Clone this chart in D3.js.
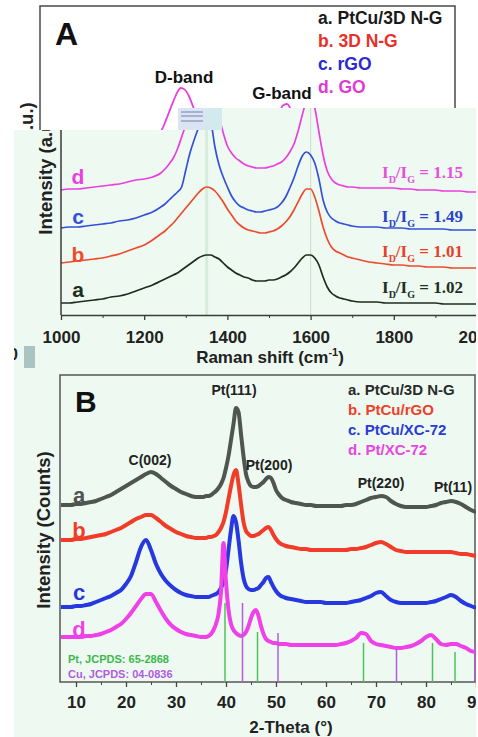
<!DOCTYPE html>
<html><head><meta charset="utf-8">
<script src="https://cdn.jsdelivr.net/npm/d3@7"></script>
<style>body{margin:0;background:#fff}svg{display:block}text{font-family:"Liberation Sans",Arial,sans-serif}</style>
</head><body><svg id="c" width="478" height="737"></svg>
<script>
// ---------- Panel A data (Raman) ----------
const ramanShift = [1000,1020,1040,1060,1080,1100,1120,1140,1160,1180,1200,1220,1240,
 1250,1260,1270,1280,1290,1300,1310,1320,1330,1340,1350,1360,1370,1380,1390,1400,1410,1420,1430,1440,
 1450,1460,1470,1480,1490,1500,1510,1520,1530,1540,1550,1560,1570,1580,1590,1600,1610,1620,1630,1640,
 1650,1660,1670,1680,1690,1700,
 1720,1740,1760,1780,1800,1820,1840,1860,1880,1900,1920,1940,1960,1980,2000];
const ramanA = [12,12,13,14,15,16,18,19,21,24,27,30,34,
 36,38,40,42,45,48,51,54,57,59, 60,60,58,56,52,48,45,42,40,38, 37,35,34,34,34,35,35,36,38,40,
 43,47,52,57,60,60,57,50,38,28, 22,19,17,16,15,14,
 13,13,13,12,12,12,12,12,12,12,11,11,11,11,11];
const ramanB = [52,53,54,55,56,57,59,61,64,67,70,75,81,
 84,88,92,97,102,107,112,117,122,126, 128,127,124,119,113,106,100,94,90,87, 85,84,83,82,82,83,84,86,89,93,
 98,105,113,121,126,126,118,104,88,76, 68,64,62,60,58,57,
 55,53,52,51,50,50,49,49,48,48,48,47,47,47,47];
const ramanC = [87,88,88,89,90,91,92,94,95,97,100,103,108,
 111,115,119,123,128,145,162,175,187,202, 212,195,168,150,138,128,119,113,109,107, 105,104,103,103,104,105,106,108,112,118,
 127,137,149,159,163,160,152,136,115,103, 97,94,92,91,90,89,
 88,88,88,87,87,87,86,86,86,86,86,85,85,85,85];
const ramanD = [125,126,126,127,128,129,130,131,133,135,136,138,142,
 146,151,157,166,178,190,203,216,228,235, 233,225,212,198,182,169,162,157,154,151, 149,148,147,147,147,148,149,151,153,157,
 163,171,184,200,213,215,207,183,160,144, 136,132,130,129,128,128,
 127,127,127,127,127,126,126,125,125,125,124,124,124,123,123];
const ramanSeries = [ramanA, ramanB, ramanC, ramanD];
const ramanLetters = ['a','b','c','d'];
const ramanColors = ['#1d2e1d','#ee4a2e','#3550d8','#ec3ee0'];
const ramanLegend = ['a. PtCu/3D N-G','b. 3D N-G','c. rGO','d. GO'];
const ramanLegendColors = ['#1a1a1a','#e8302a','#2a2ad0','#e03ad0'];
const ratioLabels = ['1.02','1.01','1.49','1.15'];
const ratioColors = ['#203020','#e8402a','#2a44c8','#e650dc'];
const ramanTicks = [1000,1200,1400,1600,1800,2000];
const ramanMinor = [1100,1300,1500,1700,1900];
const bandPositions = [1350,1600];

// ---------- Panel B data (XRD) ----------
const theta = [7,8,9,10,11,12,13,14,15,16,17,18,19,20,21,22,23,24,25,26,27,28,29,30,31,32,33,34,35,
 35.5,36,36.5,37,37.5,38,38.5,39,39.5,40,40.5,41,41.5,42,42.5,43,43.5,44,44.5,45,45.5,46,46.5,47,47.5,48,48.5,49,49.5,50,50.5,51,51.5,52,
 53,54,55,56,57,58,59,60,61,62,63,64,65,66,67,68,69,70,71,72,73,74,75,76,77,78,79,80,81,82,83,84,85,86,87,88,89,90];
const xrdA = [177,177,177,178,178,179,180,181,183,185,187,190,193,196,199,202,205,208,210,208,204,200,196,193,190,188,186,185,185,
 185,186,186,187,189,191,194,198,204,214,226,242,258,274,270,248,226,208,200,196,195,195,196,198,200,203,205,204,199,192,188,185,183,182,
 180,179,178,177,177,176,176,176,176,176,176,177,177,178,180,182,184,185,186,185,181,178,176,175,175,175,175,175,176,177,179,180,181,180,178,175,172,170];
const xrdB = [142,142,142,143,143,144,145,146,147,148,150,152,154,157,160,163,165,167,167,164,160,156,153,150,148,146,145,144,144,
 144,144,145,145,146,147,150,154,160,170,183,196,207,212,198,178,160,151,148,146,146,147,148,150,152,154,155,152,147,143,140,138,137,136,
 135,134,133,133,132,132,132,132,132,132,132,132,133,133,134,135,137,139,140,138,135,132,131,130,130,130,130,130,130,130,130,130,130,129,128,128,127,126];
const xrdC = [75,75,75,76,76,77,78,80,82,84,86,89,92,98,106,120,135,142,132,118,108,101,96,92,89,87,86,85,85,
 85,85,85,86,87,88,90,94,100,112,132,152,166,160,142,120,104,96,93,92,92,93,94,97,100,104,105,100,95,91,88,86,85,84,
 83,82,81,80,80,80,80,79,79,79,79,79,80,81,82,84,86,89,90,86,82,80,79,79,79,79,79,79,80,81,83,85,87,85,81,78,76,74];
const xrdD = [45,45,45,45,45,46,46,47,48,50,52,55,58,63,69,76,83,88,88,80,71,63,57,53,50,48,47,46,45,
 45,45,46,48,52,58,68,90,139,100,72,58,52,49,47,46,47,50,56,64,70,72,66,56,48,43,41,40,39,39,38,38,38,38,
 37,37,37,37,37,37,37,37,37,37,38,39,41,44,49,48,41,38,37,36,35,34,34,35,36,38,41,45,47,43,38,37,38,38,36,34,31,30];
const xrdSeries = [xrdA, xrdB, xrdC, xrdD];
const xrdColors = ['#4f554f','#f03c28','#2838e0','#f040e8'];
const xrdLegend = ['a. PtCu/3D N-G','b. PtCu/rGO','c. PtCu/XC-72','d. Pt/XC-72'];
const xrdLegendColors = ['#2a2a2a','#f0402a','#2a3ad8','#ea45e0'];
const xrdTicks = [10,20,30,40,50,60,70,80,90];
const xrdMinor = [15,25,35,45,55,65,75,85];
const ptRefPos = [39.8,46.3,67.5,81.3,85.8];
const ptRefInt = [79,50,39,39,30];
const cuRefPos = [43.3,50.4,74.1,89.9];
const cuRefInt = [79,49,34,37];
const peakLabels = ['C(002)','Pt(111)','Pt(200)','Pt(220)','Pt(11)'];

// ---------- scales ----------
const xA = d3.scaleLinear([1000,2000],[61,477]);
const yA = d3.scaleLinear([0,300],[315,15]);
const xBg = d3.scaleLinear([1000,2000],[42,450]);
const yBg = d3.scaleLinear([0,235],[276,88]);
const xB = d3.scaleLinear([10,90],[76,476]);
const yB = d3.scaleLinear([0,307],[682,375]);

const svg = d3.select('#c');
const defs = svg.append('defs');
defs.append('clipPath').attr('id','ov').append('path').attr('d','M14,130H178V108H476V737H14Z');
defs.append('clipPath').attr('id','bgclip').append('rect').attr('x',40).attr('y',6).attr('width',415).attr('height',126);

svg.append('rect').attr('width',478).attr('height',737).attr('fill','#fff');

// ---------- background (original panel A header) ----------
const bg = svg.append('g');
bg.append('path').attr('d','M40,134V6H455V112').attr('fill','none').attr('stroke','#4a4a4a').attr('stroke-width',1.5);
bg.append('text').attr('x',55).attr('y',45).text('A').style('font-size','32px').style('font-weight','bold').attr('fill','#111');
ramanLegend.forEach((t,i)=>{
  bg.append('text').attr('x',318).attr('y',24+i*23).text(t)
    .style('font-size','17.5px').style('font-weight','bold').attr('fill',ramanLegendColors[i]);
});
bg.append('text').attr('x',184).attr('y',83).attr('text-anchor','middle').text('D-band')
  .style('font-size','17px').style('font-weight','bold').attr('fill','#111');
bg.append('text').attr('x',282).attr('y',99).attr('text-anchor','middle').text('G-band')
  .style('font-size','17px').style('font-weight','bold').attr('fill','#111');
bg.append('text').attr('transform','translate(33,165) rotate(-90)').attr('text-anchor','middle')
  .text('Intensity (a.u.)').style('font-size','18.5px').style('font-weight','bold').attr('fill','#222');
bg.append('path').attr('clip-path','url(#bgclip)')
  .attr('d', d3.line().x((d,i)=>xBg(ramanShift[i])).y(d=>yBg(d)).curve(d3.curveMonotoneX)(ramanD))
  .attr('fill','none').attr('stroke',ramanColors[3]).attr('stroke-width',1.8);

// ---------- overlay ----------
const ov = svg.append('g').attr('clip-path','url(#ov)');
ov.append('rect').attr('x',0).attr('y',0).attr('width',478).attr('height',737).attr('fill','#eefaf1');

// band guide lines
bandPositions.forEach((b,i)=>{
  ov.append('line').attr('x1',xA(b)).attr('x2',xA(b)).attr('y1',yA(300)).attr('y2',yA(0))
    .attr('stroke', i===0 ? '#d6ecdc' : '#cfdfd3').attr('stroke-width', i===0 ? 3 : 1.2);
});

const lineA = d3.line().x((d,i)=>xA(ramanShift[i])).y(d=>yA(d)).curve(d3.curveMonotoneX);
ramanSeries.forEach((s,i)=>{
  ov.append('path').attr('d',lineA(s)).attr('fill','none').attr('stroke',ramanColors[i]).attr('stroke-width',1.7);
});

// patch artifact
ov.append('rect').attr('x',178).attr('y',108).attr('width',44).attr('height',22).attr('fill','#dde4f1');
ov.append('rect').attr('x',205).attr('y',108).attr('width',17).attr('height',22).attr('fill','#d2eaee');
[112,116,121].forEach(yy=>{
  ov.append('line').attr('x1',181).attr('x2',203).attr('y1',yy).attr('y2',yy).attr('stroke','#a6b2d4').attr('stroke-width',2);
});

// A axes
ov.append('line').attr('x1',xA(1000)).attr('x2',xA(1000)).attr('y1',130).attr('y2',yA(0)).attr('stroke','#3a3a3a').attr('stroke-width',1.5);
const axA = ov.append('g').attr('transform',`translate(0,${yA(0)})`)
  .call(d3.axisBottom(xA).tickValues(ramanTicks).tickFormat(d3.format('d')).tickSize(5).tickSizeOuter(0));
axA.select('.domain').attr('stroke','#3a3a3a').attr('stroke-width',1.5);
axA.selectAll('line').attr('stroke','#3a3a3a').attr('stroke-width',1.3);
axA.selectAll('text').attr('y',16).style('font-size','17px').style('font-weight','bold').attr('fill','#222')
  .style('font-family','"Liberation Sans",Arial,sans-serif');
const axAm = ov.append('g').attr('transform',`translate(0,${yA(0)})`)
  .call(d3.axisBottom(xA).tickValues(ramanMinor).tickFormat('').tickSize(3).tickSizeOuter(0));
axAm.select('.domain').remove();
axAm.selectAll('line').attr('stroke','#3a3a3a');

const tA = ov.append('text').attr('x',270).attr('y',363).attr('text-anchor','middle')
  .style('font-size','17px').style('font-weight','bold').attr('fill','#222');
tA.append('tspan').text('Raman shift (cm');
tA.append('tspan').text('-1').attr('dy',-7).style('font-size','11px');
tA.append('tspan').text(')').attr('dy',7);
ov.append('text').attr('transform','translate(52,172) rotate(-90)').attr('text-anchor','middle')
  .text('Intensity (a.u.)').style('font-size','18.5px').style('font-weight','bold').attr('fill','#222');

const letterBaseA = [297,262,224,184];
ramanLetters.forEach((l,i)=>{
  ov.append('text').attr('x',78).attr('y',letterBaseA[i]).attr('text-anchor','middle').text(l)
    .style('font-size','21px').style('font-weight','bold').attr('fill',ramanColors[i]);
});
const ratioBase = [293,257,222,178];
ratioLabels.forEach((r,i)=>{
  const t = ov.append('text').attr('x',382).attr('y',ratioBase[i]).attr('fill',ratioColors[i])
    .style('font-family','"Liberation Serif","Times New Roman",serif').style('font-size','17px').style('font-weight','bold');
  t.append('tspan').text('I');
  t.append('tspan').text('D').attr('dy',5).style('font-size','10px');
  t.append('tspan').text('/I').attr('dy',-5);
  t.append('tspan').text('G').attr('dy',5).style('font-size','10px');
  t.append('tspan').text(' = ' + r).attr('dy',-5);
});

// artifacts bottom-left of A
ov.append('text').attr('x',9).attr('y',360).text('0').style('font-size','16px').style('font-weight','bold').attr('fill','#222');
ov.append('rect').attr('x',24).attr('y',346).attr('width',11).attr('height',22).attr('fill','#aac4c4');

// ---------- Panel B ----------
ov.append('rect').attr('x',60).attr('y',375).attr('width',415).attr('height',307)
  .attr('fill','none').attr('stroke','#555').attr('stroke-width',1.5);

const lineB = d3.line().x((d,i)=>xB(theta[i])).y(d=>yB(d)).curve(d3.curveMonotoneX);
xrdSeries.forEach((s,i)=>{
  ov.append('path').attr('d',lineB(s)).attr('fill','none').attr('stroke',xrdColors[i])
    .attr('stroke-width',4).attr('stroke-linejoin','round');
});
ptRefPos.forEach((p,i)=>{
  ov.append('line').attr('x1',xB(p)).attr('x2',xB(p)).attr('y1',yB(0)).attr('y2',yB(ptRefInt[i]))
    .attr('stroke','#4cc25a').attr('stroke-width',1.5);
});
cuRefPos.forEach((p,i)=>{
  ov.append('line').attr('x1',xB(p)).attr('x2',xB(p)).attr('y1',yB(0)).attr('y2',yB(cuRefInt[i]))
    .attr('stroke','#b55be0').attr('stroke-width',1.5);
});

const axB = ov.append('g').attr('transform',`translate(0,${yB(0)})`)
  .call(d3.axisBottom(xB).tickValues(xrdTicks).tickFormat(d3.format('d')).tickSize(5).tickSizeOuter(0));
axB.select('.domain').remove();
axB.selectAll('line').attr('stroke','#444').attr('stroke-width',1.3);
axB.selectAll('text').attr('y',14).style('font-size','17px').style('font-weight','bold').attr('fill','#222')
  .style('font-family','"Liberation Sans",Arial,sans-serif');
const axBm = ov.append('g').attr('transform',`translate(0,${yB(0)})`)
  .call(d3.axisBottom(xB).tickValues(xrdMinor).tickFormat('').tickSize(3).tickSizeOuter(0));
axBm.select('.domain').remove();
axBm.selectAll('line').attr('stroke','#444');

ov.append('text').attr('x',291).attr('y',733).attr('text-anchor','middle').text('2-Theta (°)')
  .style('font-size','17px').style('font-weight','bold').attr('fill','#222');
ov.append('text').attr('transform','translate(50,530) rotate(-90)').attr('text-anchor','middle')
  .text('Intensity (Counts)').style('font-size','18.5px').style('font-weight','bold').attr('fill','#222');
ov.append('text').attr('x',75).attr('y',412).text('B').style('font-size','30px').style('font-weight','bold').attr('fill','#111');

xrdLegend.forEach((t,i)=>{
  ov.append('text').attr('x',348).attr('y',395+i*20).text(t)
    .style('font-size','15px').style('font-weight','bold').attr('fill',xrdLegendColors[i]);
});
const peakX = [150,234,269,381,453];
const peakBase = [465,395,470,488,492];
peakLabels.forEach((t,i)=>{
  ov.append('text').attr('x',peakX[i]).attr('y',peakBase[i]).attr('text-anchor','middle').text(t)
    .style('font-size','14px').style('font-weight','bold').attr('fill','#222');
});
const letterBaseB = [503,538,600,637];
ramanLetters.forEach((l,i)=>{
  ov.append('text').attr('x',79).attr('y',letterBaseB[i]).attr('text-anchor','middle').text(l)
    .style('font-size','22px').style('font-weight','bold').attr('fill',xrdColors[i]);
});
ov.append('text').attr('x',68).attr('y',663).text('Pt, JCPDS: 65-2868')
  .style('font-size','11px').style('font-weight','bold').attr('fill','#3cb84c');
ov.append('text').attr('x',68).attr('y',678).text('Cu, JCPDS: 04-0836')
  .style('font-size','11px').style('font-weight','bold').attr('fill','#b35ae0');
</script></body></html>
